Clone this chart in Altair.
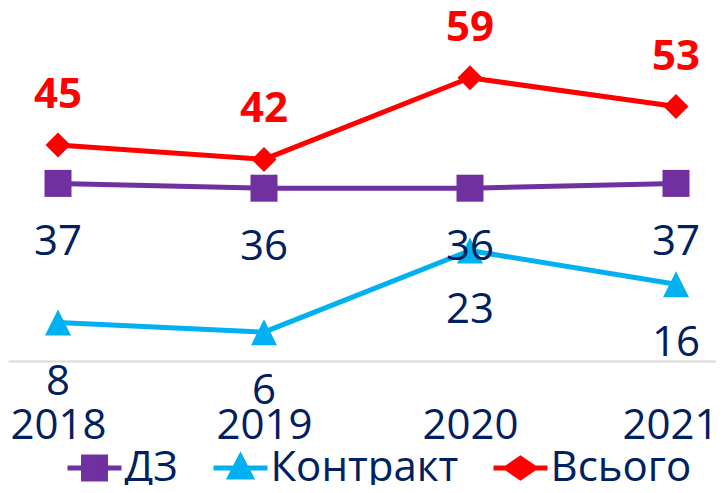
import altair as alt
import pandas as pd

years = [2018, 2019, 2020, 2021]
series = ["ДЗ", "Контракт", "Всього"]
dz = [37, 36, 36, 37]
kontrakt = [8, 6, 23, 16]
vsogo = [45, 42, 59, 53]
colors = ["#7030A0", "#00B0F0", "#FF0000"]

rows = []
for name, vals in zip(series, [dz, kontrakt, vsogo]):
    for yr, v in zip(years, vals):
        rows.append({"year": yr, "series": name, "value": v})
df = pd.DataFrame(rows)

FONT = "Open Sans"
NAVY = "#002060"
FS = 42

x = alt.X(
    "year:Q",
    scale=alt.Scale(domain=[2017.7573, 2021.1942], nice=False, zero=False),
    axis=alt.Axis(
        values=years, format="d", title=None, ticks=False, grid=False,
        labelFontSize=FS, labelFont=FONT, labelColor=NAVY, labelPadding=44,
        labelOffset={"condition": {"test": "datum.value == 2021", "value": -6}, "value": 0},
        domainColor="#D9D9D9", domainWidth=2, labelFlush=False,
        labelOverlap=False, labelBound=False,
    ),
)
y = alt.Y("value:Q", scale=alt.Scale(domain=[0, 73.54], nice=False), axis=None)

cscale = alt.Scale(domain=series, range=colors)

base = alt.Chart(df)

leg_paths = [
    "M-1.8,0H1.8M-0.73,-0.73H0.73V0.73H-0.73Z",
    "M-1.8,0H1.8M0,-0.75L0.7,0.6H-0.7Z",
    "M-1.8,0H1.8M0,-0.65L0.95,0L0,0.65L-0.95,0Z",
]

def make_legend():
    return alt.Legend(
        title=None, orient="none", legendX=59.5, legendY=439, direction="horizontal",
        labelFont=FONT, labelFontSize=FS, labelColor=NAVY,
        symbolSize=900, symbolStrokeWidth=5, symbolOpacity=1,
        symbolOffset=6, labelOffset=9, columnPadding=25, padding=0,
        labelLimit=400,
    )

# invisible layer that only carries the legend (first, so its legend wins the merge)
legend_layer = base.mark_point(opacity=0, filled=True).encode(
    x=x, y=y,
    shape=alt.Shape("series:N", scale=alt.Scale(domain=series, range=leg_paths), legend=make_legend()),
    fill=alt.Fill("series:N", scale=cscale, legend=make_legend()),
    stroke=alt.Stroke("series:N", scale=cscale, legend=make_legend()),
)

lines = base.mark_line(strokeWidth=5).encode(
    x=x, y=y,
    stroke=alt.Stroke("series:N", scale=cscale, legend=make_legend()),
    detail="series:N",
)

marker_shapes = ["square", "M0,-1L1,1L-1,1Z", "diamond"]
marker_sizes = [729, 676, 625]
markers = []
for s, shp, sz in zip(series, marker_shapes, marker_sizes):
    markers.append(
        base.transform_filter(alt.datum.series == s)
        .mark_point(shape=shp, size=sz, filled=True, opacity=1)
        .encode(x=x, y=y, fill=alt.Fill("series:N", scale=cscale, legend=make_legend()))
    )

low = base.transform_filter(alt.datum.series != "Всього").mark_text(
    font=FONT, fontSize=FS, color=NAVY, baseline="middle", align="center", dy=59
).encode(x=x, y=y, text="value:Q")

high = base.transform_filter(alt.datum.series == "Всього").mark_text(
    font=FONT, fontSize=FS, fontWeight="bold", color="#FF0000",
    baseline="middle", align="center", dy=-50
).encode(x=x, y=y, text="value:Q")

chart = alt.layer(legend_layer, lines, *markers, low, high).properties(
    width=708, height=353,
    autosize=alt.AutoSizeParams(type="none"),
    padding={"left": 0, "top": 0, "right": 0, "bottom": 124},
    background="white",
).configure_view(strokeWidth=0)

chart.save("out.html", embed_options={"renderer": "svg", "actions": False})
